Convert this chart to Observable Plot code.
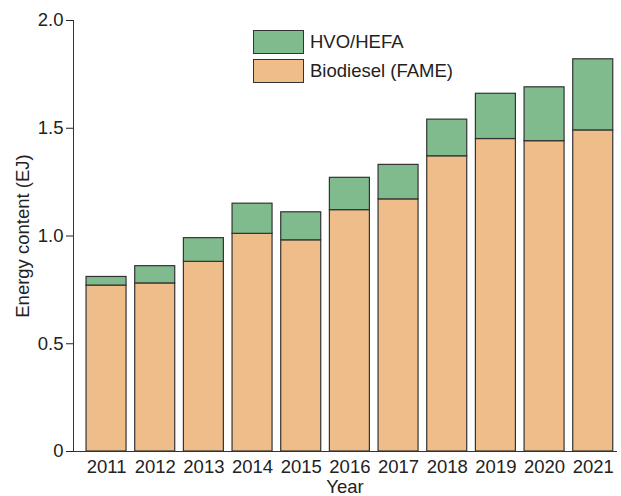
<!DOCTYPE html>
<html>
<head>
<meta charset="utf-8">
<script src="https://cdn.jsdelivr.net/npm/d3@7"></script>
<script src="https://cdn.jsdelivr.net/npm/@observablehq/plot@0.6"></script>
<style>
  html, body { margin: 0; padding: 0; background: #fff; }
  #wrap { position: relative; width: 621px; height: 496px; overflow: hidden; font-family: "Liberation Sans", Arial, sans-serif; }
  #legend { position: absolute; left: 253px; top: 28px; font-size: 18.5px; color: #222; }
  .item { display: flex; align-items: center; height: 28.5px; }
  .sw { width: 51px; height: 24px; border: 1.2px solid #333; box-sizing: border-box; margin-right: 6px; }
</style>
</head>
<body>
<div id="wrap"></div>
<script>
const years = ["2011","2012","2013","2014","2015","2016","2017","2018","2019","2020","2021"];
const biodiesel = [0.77,0.78,0.88,1.01,0.98,1.12,1.17,1.37,1.45,1.44,1.49];
const hvo = [0.04,0.08,0.11,0.14,0.13,0.15,0.16,0.17,0.21,0.25,0.33];
const seriesNames = ["Biodiesel (FAME)", "HVO/HEFA"];
const seriesColors = ["#efbd89", "#80bb8e"];
const yTicks = [0, 0.5, 1.0, 1.5, 2.0];

const data = [
  ...years.map((y, i) => ({year: y, type: seriesNames[0], value: biodiesel[i]})),
  ...years.map((y, i) => ({year: y, type: seriesNames[1], value: hvo[i]}))
];

const chart = Plot.plot({
  width: 621,
  height: 496,
  marginLeft: 73,
  marginRight: 5,
  marginTop: 20,
  marginBottom: 45,
  style: {fontFamily: "'Liberation Sans', Arial, sans-serif", fontSize: "18.5px", color: "#222", background: "#fff", overflow: "visible"},
  x: {domain: years, round: false, paddingInner: 0.178, paddingOuter: 0.1675, align: 0.8, label: "Year", labelAnchor: "center", labelOffset: 41, tickSize: 0, tickPadding: 8},
  y: {domain: [0, 2], ticks: yTicks, tickFormat: d => d === 0 ? "0" : d.toFixed(1), label: "Energy content (EJ)", labelAnchor: "center", labelArrow: "none", labelOffset: 58, tickSize: 7, tickPadding: 3},
  color: {domain: seriesNames, range: seriesColors},
  marks: [
    Plot.barY(data, {x: "year", y: "value", fill: "type", stroke: "#333", strokeWidth: 1.2}),
    Plot.frame({anchor: "left", stroke: "#333"}),
    Plot.frame({anchor: "bottom", stroke: "#333"})
  ]
});
document.getElementById("wrap").appendChild(chart);

const legend = document.createElement("div");
legend.id = "legend";
[1, 0].forEach(i => {
  const item = document.createElement("div");
  item.className = "item";
  const sw = document.createElement("div");
  sw.className = "sw";
  sw.style.background = seriesColors[i];
  const t = document.createElement("span");
  t.textContent = seriesNames[i];
  item.appendChild(sw); item.appendChild(t);
  legend.appendChild(item);
});
document.getElementById("wrap").appendChild(legend);
</script>
</body>
</html>
